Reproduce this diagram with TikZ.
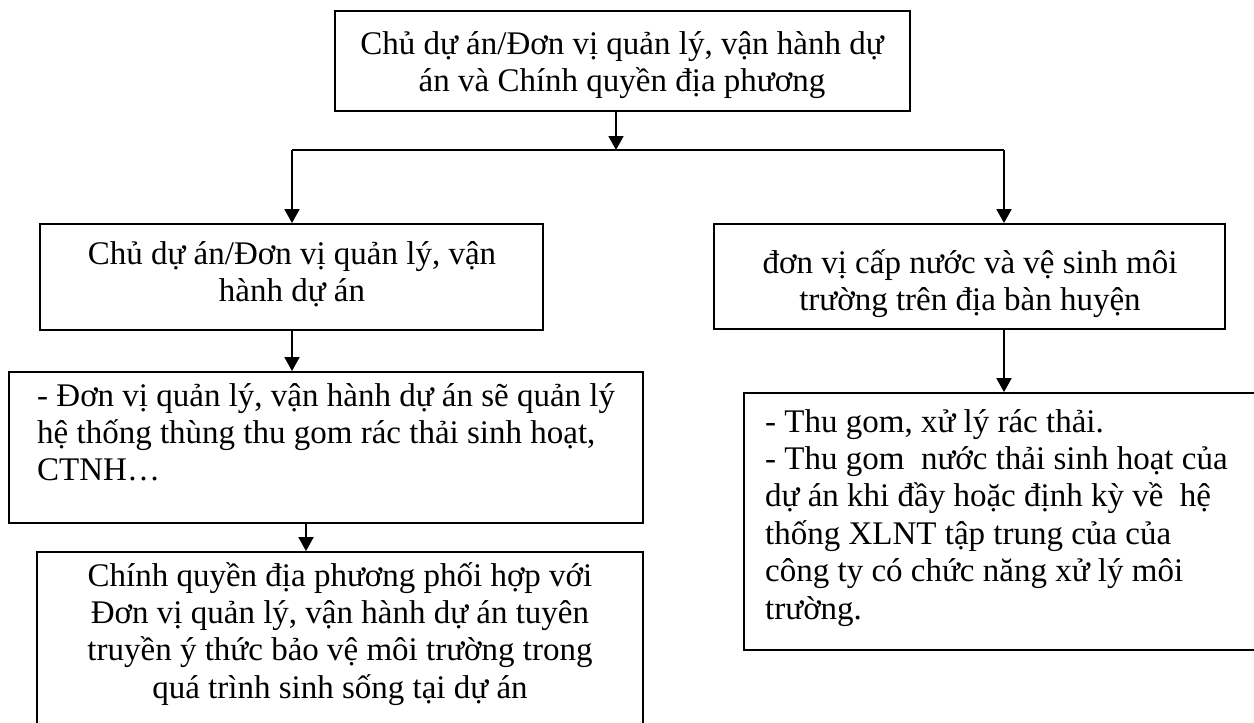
\documentclass[tikz,border=0pt]{standalone}
\usepackage{fontspec}
\setmainfont{Liberation Serif}
\usetikzlibrary{arrows.meta}
\begin{document}
\begin{tikzpicture}[x=1pt,y=-1pt,
  box/.style={draw=black,line width=1.8pt,rectangle,inner sep=0pt},
  txt/.style={inner sep=0pt,font=\fontsize{33}{37.4}\selectfont},
  conn/.style={draw=black,line width=1.8pt},
  arr/.style={conn,-{Triangle[width=15pt,length=14pt]}}]
\clip (0,0) rectangle (1254,723);
\fill[white] (0,0) rectangle (1254,723);
% boxes
\node[box,minimum width=575pt,minimum height=100pt] (A) at (622.5,61) {};
\node[box,minimum width=503pt,minimum height=106pt] (B) at (291.5,277) {};
\node[box,minimum width=634pt,minimum height=151pt] (C) at (326,447.5) {};
\node[box,minimum width=606pt,minimum height=188pt] (D) at (340,646) {};
\node[box,minimum width=511pt,minimum height=105pt] (E) at (969.5,276.5) {};
\node[box,minimum width=526pt,minimum height=257pt] (F) at (1007,521.5) {};
% texts (anchor base = baseline of the last line)
\node[txt,align=center,anchor=base] (At) at (622,91.4) {Chủ dự án/Đơn vị quản lý, vận hành dự\\án và Chính quyền địa phương};
\node[txt,align=center,anchor=base] (Bt) at (292,301.4) {Chủ dự án/Đơn vị quản lý, vận\\hành dự án};
\node[txt,align=left,anchor=base west] (Ct) at (37,480.8) {- Đơn vị quản lý, vận hành dự án sẽ quản lý\\hệ thống thùng thu gom rác thải sinh hoạt,\\CTNH…};
\node[txt,align=center,anchor=base] (Dt) at (340,698.2) {Chính quyền địa phương phối hợp với\\Đơn vị quản lý, vận hành dự án tuyên\\truyền ý thức bảo vệ môi trường trong\\quá trình sinh sống tại dự án};
\node[txt,align=center,anchor=base] (Et) at (970,310.4) {đơn vị cấp nước và vệ sinh môi\\trường trên địa bàn huyện};
\node[txt,align=left,anchor=base west] (Ft) at (765,619) {- Thu gom, xử lý rác thải.\\- Thu gom\ \ nước thải sinh hoạt của\\dự án khi đầy hoặc định kỳ về\ \ hệ\\thống XLNT tập trung của của\\công ty có chức năng xử lý môi\\trường.};
% connectors
\coordinate (j) at (616,150);
\coordinate (jl) at (292,150);
\coordinate (jr) at (1004,150);
\coordinate (cd) at (306,540);
\draw[conn] (jl) -- (jr);
\draw[arr] (j |- A.south) -- (j);
\draw[arr] (jl) -- (jl |- B.north);
\draw[arr] (jr) -- (jr |- E.north);
\draw[arr] (jl |- B.south) -- (jl |- C.north);
\draw[arr] (cd |- C.south) -- (cd |- D.north);
\draw[arr] (jr |- E.south) -- (jr |- F.north);
\end{tikzpicture}
\end{document}
